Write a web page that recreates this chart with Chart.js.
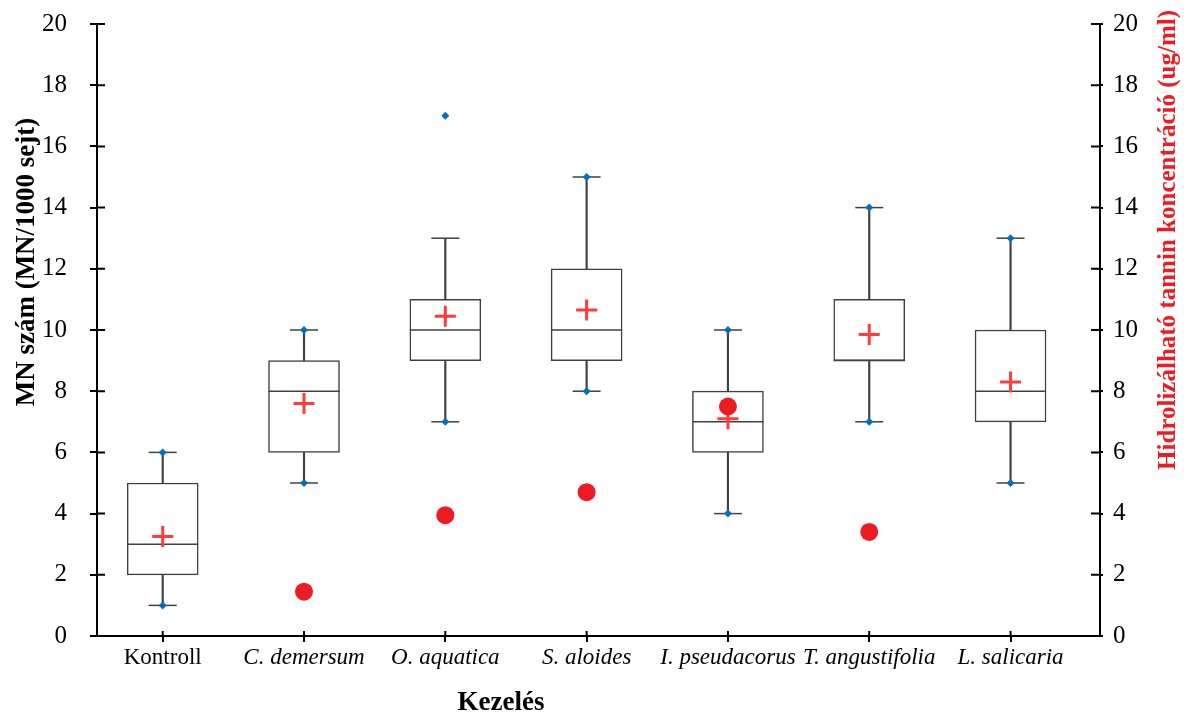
<!DOCTYPE html>
<html>
<head>
<meta charset="utf-8">
<script src="https://cdn.jsdelivr.net/npm/chart.js@4/dist/chart.umd.min.js"></script>
<style>
    body { margin: 0; background: #fff; }
    #wrap { width: 1190px; height: 720px; }
</style>
</head>
<body>
<div id="wrap"><canvas id="boxChart" width="1190" height="720"></canvas></div>
<script>
// Box plot data (MN szám) per treatment
const categories = ['Kontroll', 'C. demersum', 'O. aquatica', 'S. aloides', 'I. pseudacorus', 'T. angustifolia', 'L. salicaria'];
const whiskerLow = [1, 5, 7, 8, 4, 7, 5];
const q1 = [2, 6, 9, 9, 6, 9, 7];
const median = [3, 8, 10, 10, 7, 9, 8];
const q3 = [5, 9, 11, 12, 8, 11, 10];
const whiskerHigh = [6, 10, 13, 15, 10, 14, 13];
const minVals = [1, 5, 7, 8, 4, 7, 5];
const maxVals = [6, 10, 17, 15, 10, 14, 13];
const means = [3.25, 7.6, 10.45, 10.65, 7.1, 9.85, 8.3];
// Hydrolysable tannin concentration (right axis)
const tannin = [null, 1.45, 3.95, 4.7, 7.5, 3.4, null];
const yTicks = [0, 2, 4, 6, 8, 10, 12, 14, 16, 18, 20];

const SERIF = '"Liberation Serif", "Times New Roman", serif';
const LINE = '#404040';

const pts = arr => arr.map((v, i) => ({ x: i, y: v }));
const ranges = (lo, hi) => lo.map((v, i) => ({ x: i, y: [v, hi[i]] }));

// Ticks that also reach into the plot area
const innerTicks = {
    id: 'innerTicks',
    afterDatasetsDraw(chart) {
        const { ctx, scales } = chart;
        ctx.save();
        ctx.strokeStyle = '#000';
        ctx.lineWidth = 2;
        ctx.beginPath();
        scales.y.ticks.forEach(t => {
            const p = scales.y.getPixelForValue(t.value);
            ctx.moveTo(scales.y.right, p);
            ctx.lineTo(scales.y.right + 8, p);
        });
        scales.y2.ticks.forEach(t => {
            const p = scales.y2.getPixelForValue(t.value);
            ctx.moveTo(scales.y2.left, p);
            ctx.lineTo(scales.y2.left - 9, p);
        });
        scales.x.ticks.forEach(t => {
            const p = scales.x.getPixelForValue(t.value);
            ctx.moveTo(p, scales.x.top);
            ctx.lineTo(p, scales.x.top - 5);
        });
        ctx.stroke();
        ctx.restore();
    }
};

// Axis titles (right one reads bottom-to-top)
const axisTitles = {
    id: 'axisTitles',
    afterDraw(chart) {
        const ctx = chart.ctx;
        ctx.save();
        ctx.textAlign = 'center';
        ctx.textBaseline = 'middle';

        ctx.fillStyle = '#000';
        ctx.font = 'bold 27px ' + SERIF;
        ctx.fillText('Kezelés', 501, 703);

        ctx.save();
        ctx.translate(27, 262);
        ctx.rotate(-Math.PI / 2);
        ctx.fillText('MN szám (MN/1000 sejt)', 0, 0);
        ctx.restore();

        ctx.save();
        ctx.translate(1169, 240);
        ctx.rotate(-Math.PI / 2);
        ctx.fillStyle = '#ed1c24';
        ctx.font = 'bold 25px ' + SERIF;
        ctx.fillText('Hidrolizálható tannin koncentráció (ug/ml)', 0, 0);
        ctx.restore();

        ctx.restore();
    }
};

const yAxisCommon = {
    min: 0,
    max: 20,
    afterBuildTicks: scale => { scale.ticks = yTicks.map(v => ({ value: v })); },
    grid: { drawOnChartArea: false, drawTicks: true, color: '#000', lineWidth: 2 },
    border: { display: true, color: '#000', width: 2 },
    title: { display: false }
};

new Chart(document.getElementById('boxChart'), {
    type: 'bar',
    data: {
        datasets: [
            {
                label: 'Box',
                data: ranges(q1, q3),
                backgroundColor: '#fff',
                borderColor: LINE,
                borderWidth: 1.5,
                borderSkipped: false,
                barThickness: 71,
                order: 6
            },
            {
                label: 'Lower whisker',
                data: ranges(whiskerLow, q1),
                backgroundColor: LINE,
                barThickness: 1.5,
                order: 5
            },
            {
                label: 'Upper whisker',
                data: ranges(q3, whiskerHigh),
                backgroundColor: LINE,
                barThickness: 1.5,
                order: 5
            },
            {
                type: 'line',
                label: 'Median',
                data: pts(median),
                showLine: false,
                pointStyle: 'line',
                pointRadius: 35.5,
                borderColor: LINE,
                pointBorderWidth: 1.5,
                order: 4
            },
            {
                type: 'line',
                label: 'Whisker caps',
                data: pts(whiskerLow).concat(pts(whiskerHigh)),
                showLine: false,
                pointStyle: 'line',
                pointRadius: 14,
                borderColor: LINE,
                pointBorderWidth: 1.5,
                order: 3
            },
            {
                type: 'line',
                label: 'Min/Max',
                data: pts(minVals).concat(pts(maxVals)),
                showLine: false,
                pointStyle: 'rectRot',
                pointRadius: 4,
                pointBackgroundColor: '#0070c0',
                pointBorderWidth: 0,
                order: 2
            },
            {
                type: 'line',
                label: 'Átlag',
                data: pts(means),
                showLine: false,
                pointStyle: 'cross',
                pointRadius: 10.5,
                pointBorderColor: '#ff3b3b',
                pointBorderWidth: 3,
                order: 1
            },
            {
                type: 'line',
                label: 'Tannin',
                data: pts(tannin),
                yAxisID: 'y2',
                showLine: false,
                pointStyle: 'circle',
                pointRadius: 9,
                pointBackgroundColor: '#ed1c24',
                pointBorderWidth: 0,
                order: 0
            }
        ]
    },
    options: {
        responsive: false,
        animation: false,
        layout: { autoPadding: false, padding: { top: 24, left: 0, right: 0, bottom: 0 } },
        datasets: { bar: { grouped: false } },
        plugins: {
            legend: { display: false },
            tooltip: { enabled: false }
        },
        scales: {
            x: {
                type: 'linear',
                bounds: 'data',
                offset: false,
                min: -0.465,
                max: 6.633,
                afterBuildTicks: scale => { scale.ticks = categories.map((c, i) => ({ value: i })); },
                afterFit: scale => { scale.height = 84; },
                grid: { offset: false, drawOnChartArea: false, drawTicks: true, tickLength: 6, color: '#000', lineWidth: 2 },
                border: { display: true, color: '#000', width: 2 },
                ticks: {
                    autoSkip: false,
                    maxRotation: 0,
                    padding: 2,
                    color: '#000',
                    font: c => ({ family: SERIF, size: 23, style: c.index === 0 ? 'normal' : 'italic' }),
                    callback: v => categories[v]
                }
            },
            y: {
                ...yAxisCommon,
                position: 'left',
                afterFit: scale => { scale.width = 97; scale.paddingTop = 0; scale.paddingBottom = 0; },
                grid: { ...yAxisCommon.grid, tickLength: 7 },
                ticks: { padding: 23, color: '#000', font: { family: SERIF, size: 25 } }
            },
            y2: {
                ...yAxisCommon,
                position: 'right',
                afterFit: scale => { scale.width = 90; scale.paddingTop = 0; scale.paddingBottom = 0; },
                grid: { ...yAxisCommon.grid, tickLength: 3 },
                ticks: { padding: 10, color: '#000', font: { family: SERIF, size: 25 } }
            }
        }
    },
    plugins: [innerTicks, axisTitles]
});
</script>
</body>
</html>
